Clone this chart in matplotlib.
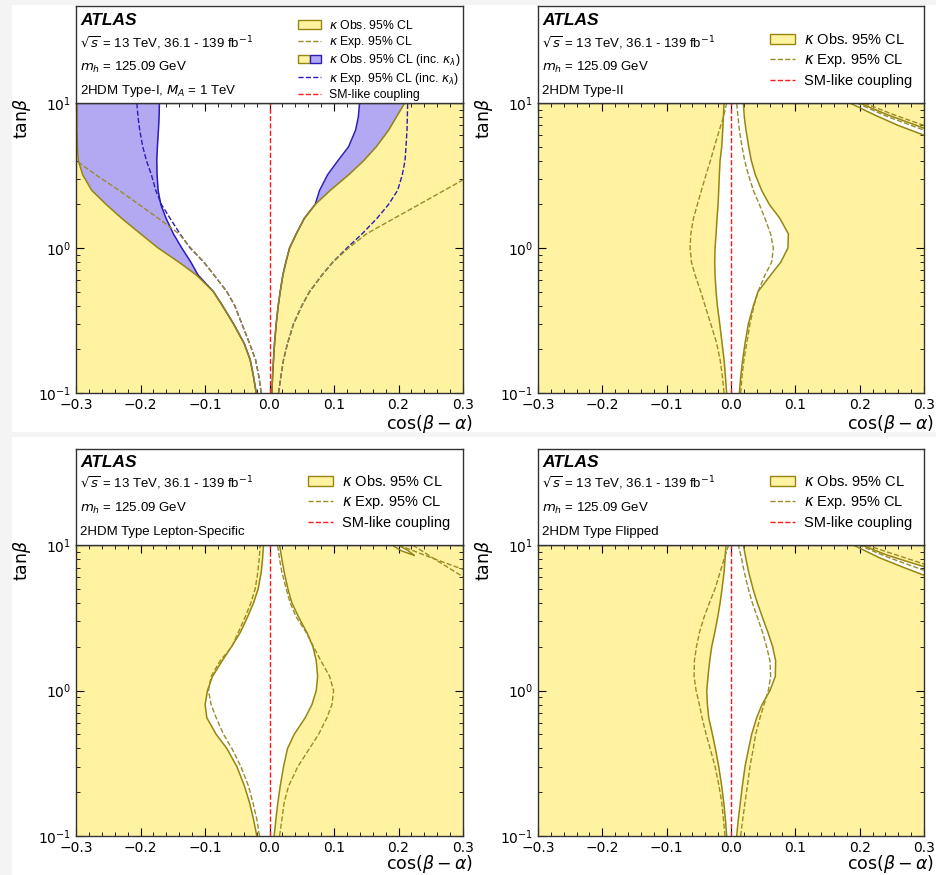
import numpy as np
import matplotlib
matplotlib.use('Agg')
import matplotlib.pyplot as plt
from matplotlib.patches import Patch, Rectangle
from matplotlib.lines import Line2D
from matplotlib.legend_handler import HandlerTuple
from matplotlib.ticker import MultipleLocator

# ## Data, tan(beta) grid shared by all curves
TANB = [0.1, 0.13, 0.17, 0.22, 0.3, 0.4, 0.5, 0.65, 0.8, 1.0,
        1.25, 1.6, 2.0, 2.5, 3.2, 4.0, 5.0, 6.5, 8.0, 10.0]

# Type-I
t1_obs_lo = [-0.0206, -0.0248, -0.0300, -0.0393, -0.0558, -0.0729, -0.0869, -0.1132, -0.1407, -0.1727,
             -0.1996, -0.2291, -0.2534, -0.2757, -0.2897, -0.2964, -0.2979, -0.2984, -0.2984, -0.2984]
t1_obs_hi = [0.0037, 0.0047, 0.0062, 0.0078, 0.0104, 0.0135, 0.0166, 0.0207, 0.0254, 0.0311,
             0.0414, 0.0539, 0.0709, 0.0942, 0.1227, 0.1459, 0.1656, 0.1847, 0.1966, 0.2096]
t1_inc_lo = [-0.0206, -0.0248, -0.0300, -0.0393, -0.0558, -0.0729, -0.0869, -0.1107, -0.1220, -0.1360,
             -0.1489, -0.1603, -0.1686, -0.1727, -0.1743, -0.1748, -0.1738, -0.1722, -0.1712, -0.1707]
t1_inc_hi = [0.0037, 0.0047, 0.0062, 0.0078, 0.0104, 0.0135, 0.0166, 0.0207, 0.0254, 0.0311,
             0.0414, 0.0539, 0.0709, 0.0777, 0.0901, 0.1061, 0.1227, 0.1335, 0.1377, 0.1397]
t1_inc_exp_lo = [-0.0129, -0.0165, -0.0217, -0.0310, -0.0429, -0.0538, -0.0662, -0.0858, -0.1019, -0.1231,
                 -0.1386, -0.1541, -0.1676, -0.1764, -0.1831, -0.1908, -0.1965, -0.2012, -0.2038, -0.2058]
t1_inc_exp_hi = [0.0140, 0.0176, 0.0218, 0.0280, 0.0373, 0.0502, 0.0621, 0.0813, 0.0983, 0.1201,
                 0.1434, 0.1666, 0.1847, 0.1987, 0.2059, 0.2101, 0.2116, 0.2132, 0.2137, 0.2142]
t1_exp_lo_tb = [0.1, 0.13, 0.17, 0.22, 0.3, 0.4, 0.5, 0.65, 0.8, 1.0, 1.25, 1.6, 2.0, 2.5, 3.2, 4.0]
t1_exp_lo = [-0.0129, -0.0165, -0.0217, -0.0310, -0.0429, -0.0538, -0.0662, -0.0858, -0.1019, -0.1220,
             -0.1401, -0.1722, -0.2027, -0.2333, -0.2695, -0.2995]
t1_exp_hi_tb = [0.1, 0.13, 0.17, 0.22, 0.3, 0.4, 0.5, 0.65, 0.8, 1.0, 1.25, 1.6, 2.0, 2.5, 2.95]
t1_exp_hi = [0.0140, 0.0176, 0.0218, 0.0280, 0.0373, 0.0502, 0.0621, 0.0813, 0.0983, 0.1227,
             0.1501, 0.1930, 0.2323, 0.2711, 0.3000]

# Type-II
t2_obs_lo = [-0.0067, -0.0087, -0.0108, -0.0139, -0.0175, -0.0212, -0.0232, -0.0248, -0.0253, -0.0248,
             -0.0232, -0.0217, -0.0201, -0.0191, -0.0181, -0.0170, -0.0144, -0.0129, -0.0118, -0.0108]
t2_obs_hi = [0.0130, 0.0151, 0.0182, 0.0218, 0.0270, 0.0347, 0.0420, 0.0616, 0.0775, 0.0885,
             0.0892, 0.0760, 0.0595, 0.0476, 0.0378, 0.0316, 0.0275, 0.0233, 0.0207, 0.0192]
t2_exp_lo = [-0.0108, -0.0134, -0.0170, -0.0222, -0.0315, -0.0403, -0.0470, -0.0558, -0.0615, -0.0636,
             -0.0625, -0.0584, -0.0522, -0.0460, -0.0388, -0.0320, -0.0258, -0.0181, -0.0118, -0.0067]
t2_exp_hi = [0.0150, 0.0171, 0.0202, 0.0244, 0.0295, 0.0357, 0.0420, 0.0528, 0.0632, 0.0658,
             0.0616, 0.0528, 0.0440, 0.0347, 0.0270, 0.0213, 0.0171, 0.0130, 0.0109, 0.0088]

# Lepton-specific
ls_obs_lo = [-0.0196, -0.0248, -0.0310, -0.0388, -0.0506, -0.0662, -0.0827, -0.0972, -0.0998, -0.0962,
             -0.0884, -0.0734, -0.0589, -0.0455, -0.0341, -0.0248, -0.0175, -0.0129, -0.0108, -0.0093]
ls_obs_hi = [0.0073, 0.0099, 0.0130, 0.0166, 0.0218, 0.0280, 0.0383, 0.0554, 0.0658, 0.0725,
             0.0746, 0.0725, 0.0673, 0.0580, 0.0451, 0.0347, 0.0285, 0.0228, 0.0192, 0.0156]
ls_exp_lo = [-0.0155, -0.0196, -0.0258, -0.0325, -0.0444, -0.0584, -0.0713, -0.0827, -0.0905, -0.0946,
             -0.0905, -0.0765, -0.0584, -0.0486, -0.0377, -0.0289, -0.0222, -0.0181, -0.0160, -0.0144]
ls_exp_hi = [0.0156, 0.0192, 0.0228, 0.0295, 0.0440, 0.0621, 0.0761, 0.0890, 0.0968, 0.0994,
             0.0932, 0.0797, 0.0683, 0.0570, 0.0414, 0.0321, 0.0259, 0.0192, 0.0156, 0.0125]

# Flipped
fl_obs_lo = [-0.0067, -0.0087, -0.0113, -0.0144, -0.0191, -0.0243, -0.0289, -0.0346, -0.0367, -0.0377,
             -0.0357, -0.0331, -0.0300, -0.0253, -0.0206, -0.0170, -0.0139, -0.0108, -0.0093, -0.0077]
fl_obs_hi = [0.0088, 0.0114, 0.0145, 0.0176, 0.0218, 0.0275, 0.0321, 0.0399, 0.0482, 0.0606,
             0.0689, 0.0694, 0.0647, 0.0575, 0.0487, 0.0409, 0.0342, 0.0275, 0.0233, 0.0192]
fl_exp_lo = [-0.0093, -0.0118, -0.0144, -0.0186, -0.0248, -0.0325, -0.0387, -0.0450, -0.0491, -0.0543,
             -0.0574, -0.0569, -0.0537, -0.0491, -0.0418, -0.0336, -0.0248, -0.0170, -0.0108, -0.0036]
fl_exp_hi = [0.0150, 0.0182, 0.0218, 0.0254, 0.0295, 0.0347, 0.0383, 0.0451, 0.0513, 0.0580,
             0.0616, 0.0606, 0.0554, 0.0492, 0.0409, 0.0332, 0.0270, 0.0207, 0.0166, 0.0114]

# small allowed slivers in the upper right corner: (cos, tanb) along lower and upper edge
t2_sl_lo_x, t2_sl_lo_y = [0.185, 0.225, 0.260, 0.300], [10.0, 8.2, 7.0, 6.0]
t2_sl_hi_x, t2_sl_hi_y = [0.200, 0.240, 0.270, 0.300], [10.0, 8.4, 7.5, 6.7]
t2_sl_exp = [([0.195, 0.245, 0.300], [10.0, 8.0, 6.5]), ([0.207, 0.250, 0.300], [10.0, 8.4, 7.0])]
ls_sl_lo_x, ls_sl_lo_y = [0.190, 0.205, 0.224], [10.0, 9.1, 8.5]
ls_sl_hi_x, ls_sl_hi_y = [0.199, 0.214, 0.224], [10.0, 9.2, 8.5]
ls_sl_exp = [([0.200, 0.250, 0.300], [10.0, 8.2, 6.8]), ([0.222, 0.260, 0.300], [10.0, 7.8, 6.05])]
fl_sl_lo_x, fl_sl_lo_y = [0.190, 0.230, 0.265, 0.300], [10.0, 8.2, 7.1, 6.2]
fl_sl_hi_x, fl_sl_hi_y = [0.203, 0.240, 0.270, 0.300], [10.0, 8.6, 7.8, 7.1]
fl_sl_exp = [([0.198, 0.245, 0.300], [10.0, 8.2, 6.7]), ([0.210, 0.255, 0.300], [10.0, 8.6, 7.4])]

# ## Style
YEL = '#fff2a0'
OLIVE = '#968610'
OLIVE_D = '#9a8c28'
PURPLE = '#b3a8f2'
BLUE = '#2a1db8'
RED = '#ff1a1a'

W, H = 936, 875
fig = plt.figure(figsize=(W / 100, H / 100), dpi=100)
fig.patch.set_facecolor('#f4f4f4')
for x0, y0, x1, y1 in [(12, 5, 936, 432), (12, 437, 936, 875)]:
    fig.patches.append(Rectangle((x0 / W, 1 - y1 / H), (x1 - x0) / W, (y1 - y0) / H,
                                 transform=fig.transFigure, fc='white', ec='none', zorder=-10))


def box(x0, y0, x1, y1):
    return [x0 / W, 1 - y1 / H, (x1 - x0) / W, (y1 - y0) / H]


def make_panel(x0, x1, ytop, yhead, ybot, title, text_offs, xlab_off):
    ax = fig.add_axes(box(x0, yhead, x1, ybot))
    hd = fig.add_axes(box(x0, ytop, x1, yhead))
    hd.set_xticks([])
    hd.set_yticks([])
    for s in hd.spines.values():
        s.set_linewidth(1.0)
        s.set_color('#333333')
    hh = yhead - ytop
    ww = x1 - x0
    hd.text(4 / ww, 1 - text_offs[0] / hh, 'ATLAS', transform=hd.transAxes, fontsize=12.5,
            fontweight='bold', fontstyle='italic', family='Liberation Sans', va='center')
    lines = [r'$\sqrt{s}$ = 13 TeV, 36.1 - 139 fb$^{-1}$', r'$m_h$ = 125.09 GeV', title]
    for off, txt in zip(text_offs[1:], lines):
        hd.text(4 / ww, 1 - off / hh, txt, transform=hd.transAxes, fontsize=9.5,
                family='Liberation Sans', va='center')

    ax.set_facecolor(YEL)
    ax.set_xlim(-0.3, 0.3)
    ax.set_yscale('log')
    ax.set_ylim(0.1, 10)
    ax.xaxis.set_major_locator(MultipleLocator(0.1))
    ax.xaxis.set_minor_locator(MultipleLocator(0.02))
    ax.tick_params(which='both', direction='in', top=True, right=True, labelsize=10)
    ax.tick_params(which='major', length=6)
    ax.tick_params(which='minor', length=3)
    for s in ax.spines.values():
        s.set_linewidth(1.0)
        s.set_color('#333333')
        s.set_zorder(10)
    ax.set_xlabel(r'$\cos(\beta-\alpha)$', fontsize=12.5)
    ax.xaxis.set_label_coords(1 + 10 / ww, -xlab_off / (ybot - yhead))
    ax.xaxis.label.set_ha('right')
    ax.xaxis.label.set_va('center')
    ax.set_ylabel(r'tan$\beta$', fontsize=12.5)
    ax.yaxis.set_label_coords(-43 / ww, 1 - 15 / (ybot - yhead))
    return ax, hd


def add_legend(hd, handles, labels, fs, hx, hy, hl, spacing):
    hd.legend(handles, labels, loc='upper left', bbox_to_anchor=(hx, hy), frameon=False,
              handlelength=hl, handletextpad=0.6, labelspacing=spacing,
              borderpad=0, borderaxespad=0, prop={'family': 'Liberation Sans', 'size': fs},
              handler_map={tuple: HandlerTuple(ndivide=None, pad=0)})


obs_h = Patch(fc=YEL, ec=OLIVE, lw=1.0)
exp_h = Line2D([], [], color=OLIVE_D, ls='--', lw=1.0)
sm_h = Line2D([], [], color=RED, ls='--', lw=1.0)
inc_h = (Patch(fc=YEL, ec=OLIVE, lw=1.0), Patch(fc=PURPLE, ec=BLUE, lw=1.0))
inc_exp_h = Line2D([], [], color=BLUE, ls='--', lw=1.0)


def draw_standard(ax, lo, hi, elo, ehi, sl_lo, sl_hi, sl_exp):
    ax.fill_betweenx(TANB, lo, hi, color='white', lw=0, zorder=1)
    ax.plot(lo, TANB, color=OLIVE, lw=1.1, zorder=3)
    ax.plot(hi, TANB, color=OLIVE, lw=1.1, zorder=3)
    ax.plot(elo, TANB, color=OLIVE_D, ls='--', lw=1.0, zorder=4)
    ax.plot(ehi, TANB, color=OLIVE_D, ls='--', lw=1.0, zorder=4)
    px = list(sl_lo[0]) + list(sl_hi[0])[::-1]
    py = list(sl_lo[1]) + list(sl_hi[1])[::-1]
    ax.fill(px, py, color='white', lw=0, zorder=1)
    ax.plot(sl_lo[0], sl_lo[1], color=OLIVE, lw=1.1, zorder=3)
    ax.plot(sl_hi[0], sl_hi[1], color=OLIVE, lw=1.1, zorder=3)
    for ex, ey in sl_exp:
        ax.plot(ex, ey, color=OLIVE_D, ls='--', lw=1.0, zorder=4)
    ax.axvline(0, color=RED, ls='--', lw=1.0, zorder=5)


TOP_OFFS = [15, 37, 61, 85]
BOT_OFFS = [13, 34, 59, 83]

# ## Type-I
ax, hd = make_panel(76, 463, 6, 103, 393, r'2HDM Type-I, $M_A$ = 1 TeV', TOP_OFFS, 31)
ax.fill_betweenx(TANB, t1_obs_lo, t1_obs_hi, color='white', lw=0, zorder=1)
ax.fill_betweenx(TANB, t1_obs_lo, t1_inc_lo, color=PURPLE, lw=0, zorder=2)
ax.fill_betweenx(TANB, t1_inc_hi, t1_obs_hi, color=PURPLE, lw=0, zorder=2)
ax.plot(t1_inc_lo, TANB, color=BLUE, lw=1.1, zorder=3)
ax.plot(t1_inc_hi, TANB, color=BLUE, lw=1.1, zorder=3)
ax.plot(t1_obs_lo, TANB, color=OLIVE, lw=1.1, zorder=3)
ax.plot(t1_obs_hi, TANB, color=OLIVE, lw=1.1, zorder=3)
ax.plot(t1_inc_exp_lo, TANB, color=BLUE, ls='--', lw=1.0, zorder=4)
ax.plot(t1_inc_exp_hi, TANB, color=BLUE, ls='--', lw=1.0, zorder=4)
ax.plot(t1_exp_lo, t1_exp_lo_tb, color=OLIVE_D, ls='--', lw=1.0, zorder=4)
ax.plot(t1_exp_hi, t1_exp_hi_tb, color=OLIVE_D, ls='--', lw=1.0, zorder=4)
ax.axvline(0, color=RED, ls='--', lw=1.0, zorder=5)
add_legend(hd, [obs_h, exp_h, inc_h, inc_exp_h, sm_h],
           [r'$\kappa$ Obs. 95% CL', r'$\kappa$ Exp. 95% CL', r'$\kappa$ Obs. 95% CL (inc. $\kappa_\lambda$)',
            r'$\kappa$ Exp. 95% CL (inc. $\kappa_\lambda$)', 'SM-like coupling'],
           8.8, 222 / 387, 1 - 13 / 97, 1.9, 0.18)

std_labels = [r'$\kappa$ Obs. 95% CL', r'$\kappa$ Exp. 95% CL', 'SM-like coupling']

# ## Type-II
ax, hd = make_panel(538, 924, 6, 103, 393, '2HDM Type-II', TOP_OFFS, 31)
draw_standard(ax, t2_obs_lo, t2_obs_hi, t2_exp_lo, t2_exp_hi,
              (t2_sl_lo_x, t2_sl_lo_y), (t2_sl_hi_x, t2_sl_hi_y), t2_sl_exp)
add_legend(hd, [obs_h, exp_h, sm_h], std_labels, 10.5, 232 / 386, 1 - 26 / 97, 1.7, 0.36)

# ## Lepton-specific
ax, hd = make_panel(76, 463, 449, 545, 836, '2HDM Type Lepton-Specific', BOT_OFFS, 28)
draw_standard(ax, ls_obs_lo, ls_obs_hi, ls_exp_lo, ls_exp_hi,
              (ls_sl_lo_x, ls_sl_lo_y), (ls_sl_hi_x, ls_sl_hi_y), ls_sl_exp)
add_legend(hd, [obs_h, exp_h, sm_h], std_labels, 10.5, 232 / 387, 1 - 25 / 96, 1.7, 0.34)

# ## Flipped
ax, hd = make_panel(538, 924, 449, 545, 836, '2HDM Type Flipped', BOT_OFFS, 28)
draw_standard(ax, fl_obs_lo, fl_obs_hi, fl_exp_lo, fl_exp_hi,
              (fl_sl_lo_x, fl_sl_lo_y), (fl_sl_hi_x, fl_sl_hi_y), fl_sl_exp)
add_legend(hd, [obs_h, exp_h, sm_h], std_labels, 10.5, 232 / 386, 1 - 25 / 96, 1.7, 0.34)

fig.savefig('out.png', dpi=100, facecolor=fig.get_facecolor())
